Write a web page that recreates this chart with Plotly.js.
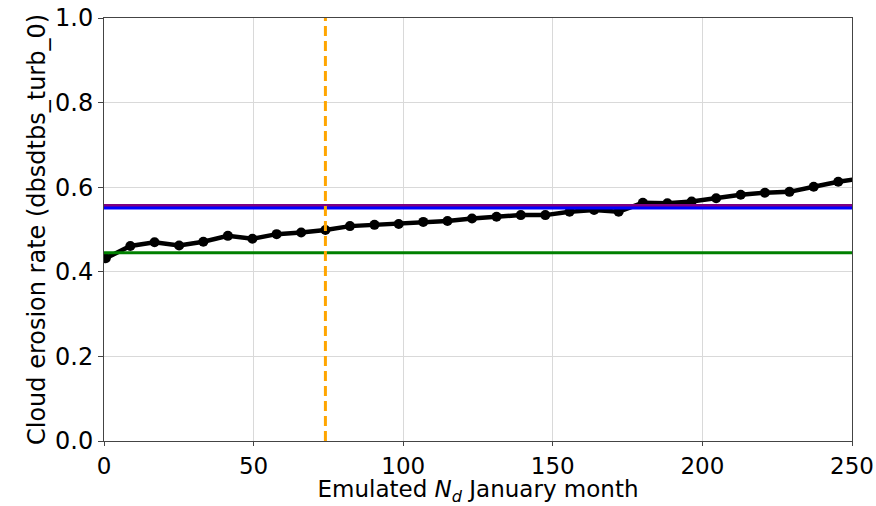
<!DOCTYPE html>
<html>
<head>
<meta charset="utf-8">
<script src="https://cdn.plot.ly/plotly-3.0.1.min.js"></script>
<style>html,body{margin:0;padding:0;background:#fff;}#chart{width:876px;height:506px;}</style>
</head>
<body>
<div id="chart"></div>
<script>
// Emulated Nd values (x) and cloud erosion rate (y)
const ndValues = [0.6, 8.8, 16.9, 25.1, 33.2, 41.4, 49.6, 57.7, 65.9, 74.0,
  82.2, 90.4, 98.5, 106.7, 114.8, 123.0, 131.2, 139.3, 147.5, 155.6,
  163.8, 172.0, 180.1, 188.3, 196.4, 204.6, 212.8, 220.9, 229.1, 237.2,
  245.4, 253.6];
const erosionRate = [0.432, 0.461, 0.470, 0.462, 0.471, 0.485, 0.478, 0.489, 0.493, 0.499,
  0.508, 0.511, 0.513, 0.518, 0.520, 0.526, 0.530, 0.534, 0.534, 0.542,
  0.546, 0.542, 0.563, 0.562, 0.566, 0.574, 0.582, 0.587, 0.589, 0.601,
  0.613, 0.621];
const greenLevel = 0.445;
const purpleLevel = 0.557;
const blueLevel = 0.551;
const observedNd = 74;
const xRange = [0, 250];
const yRange = [0, 1];
const xTicks = [0, 50, 100, 150, 200, 250];
const yTicks = [0, 0.2, 0.4, 0.6, 0.8, 1.0];

const traces = [
  {x: ndValues, y: erosionRate, type: 'scatter', mode: 'lines+markers',
   line: {color: '#000000', width: 4.5}, marker: {color: '#000000', size: 10},
   hoverinfo: 'skip', showlegend: false},
  {x: xRange, y: [greenLevel, greenLevel], type: 'scatter', mode: 'lines',
   line: {color: '#008000', width: 3}, showlegend: false},
  {x: xRange, y: [purpleLevel, purpleLevel], type: 'scatter', mode: 'lines',
   line: {color: '#800080', width: 3}, showlegend: false},
  {x: xRange, y: [blueLevel, blueLevel], type: 'scatter', mode: 'lines',
   line: {color: '#0000ff', width: 3}, showlegend: false},
  {x: [observedNd, observedNd], y: yRange, type: 'scatter', mode: 'lines',
   line: {color: '#ffa500', width: 3, dash: '10px,5px'}, showlegend: false}
];

const xTickFont = {family: 'DejaVu Sans, sans-serif', size: 23, color: '#000'};
const yTickFont = {family: 'DejaVu Sans, sans-serif', size: 24, color: '#000'};
const xTitleFont = {family: 'DejaVu Sans, sans-serif', size: 23, color: '#000'};
const yTitleFont = {family: 'DejaVu Sans, sans-serif', size: 24, color: '#000'};
const layout = {
  width: 876, height: 506,
  margin: {l: 104, r: 24, t: 18, b: 65},
  paper_bgcolor: '#fff', plot_bgcolor: '#fff',
  font: yTickFont,
  showlegend: false,
  xaxis: {
    range: xRange, tickvals: xTicks, ticktext: xTicks.map(String),
    showgrid: true, gridcolor: '#d9d9d9', gridwidth: 1, zeroline: false,
    showline: true, linecolor: '#444', linewidth: 1, mirror: true,
    ticks: 'outside', ticklen: 4, tickcolor: '#444',
    tickfont: xTickFont,
    title: {text: 'Emulated <i>N</i><sub><i>d</i></sub> January month', font: xTitleFont, standoff: 0}
  },
  yaxis: {
    range: yRange, tickvals: yTicks, ticktext: yTicks.map(v => v.toFixed(1)),
    showgrid: true, gridcolor: '#d9d9d9', gridwidth: 1, zeroline: false,
    showline: true, linecolor: '#444', linewidth: 1, mirror: true,
    ticks: 'outside', ticklen: 5, tickcolor: '#444',
    tickfont: yTickFont,
    title: {text: 'Cloud erosion rate (dbsdtbs_turb_0)', font: yTitleFont, standoff: 2}
  }
};
Plotly.newPlot('chart', traces, layout, {displayModeBar: false, staticPlot: true});
</script>
</body>
</html>
